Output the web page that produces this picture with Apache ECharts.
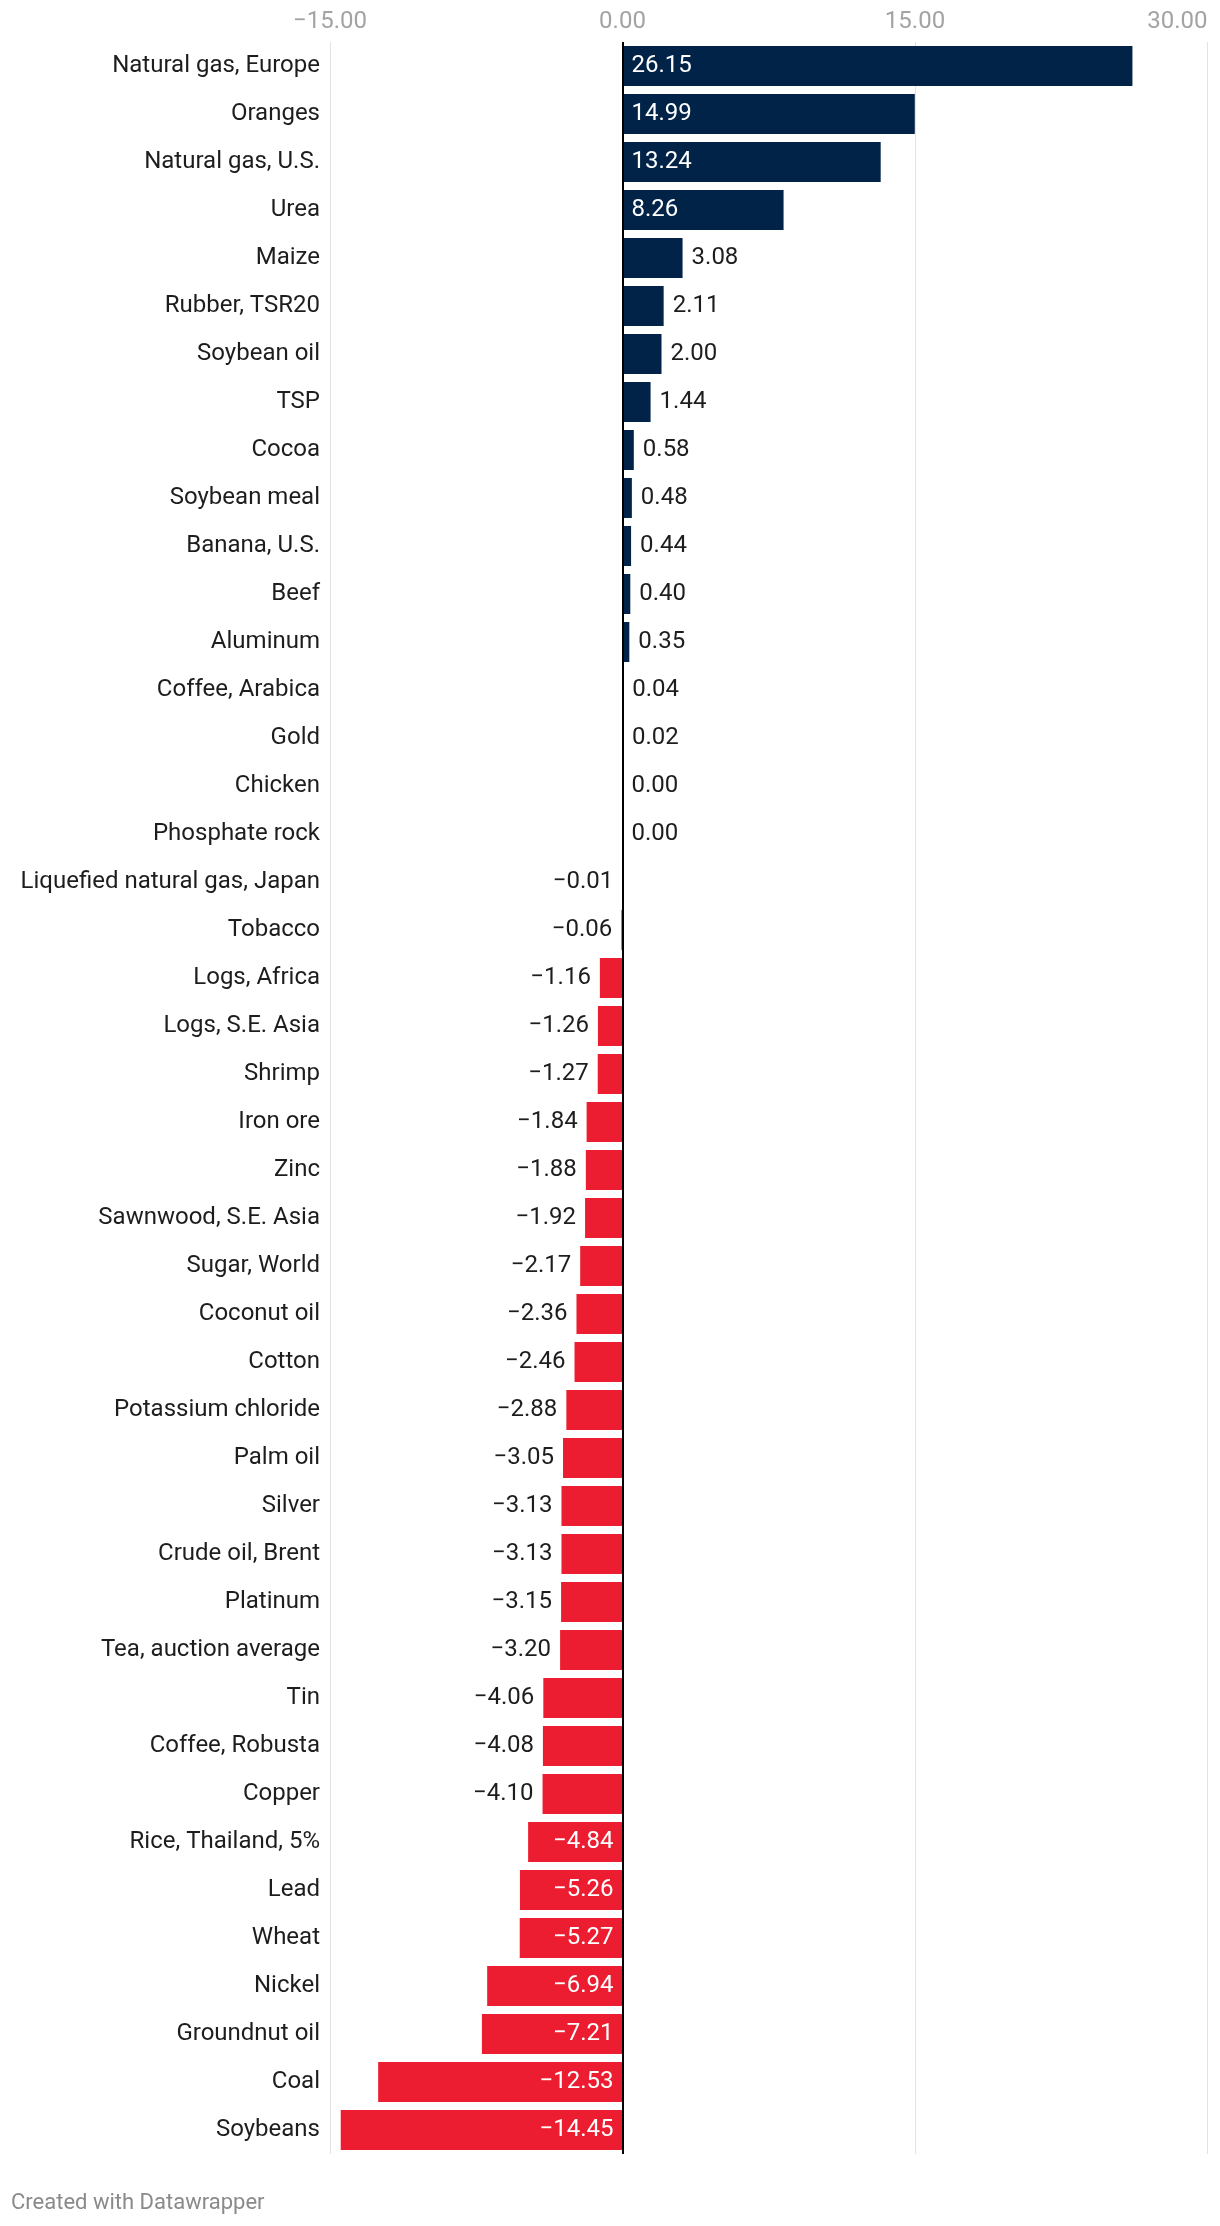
<!DOCTYPE html>
<html>
<head>
<meta charset="utf-8">
<style>
html,body{margin:0;padding:0;background:#fff;}
#chart{width:1220px;height:2226px;}
#credit{position:absolute;left:11px;top:2190px;line-height:24px;font-family:Roboto,"Noto Sans",sans-serif;font-size:22px;color:#8a8a8a;}
</style>
<script src="https://cdn.jsdelivr.net/npm/echarts@6/dist/echarts.min.js"></script>
</head>
<body>
<div id="chart"></div>
<div id="credit">Created with Datawrapper</div>
<script>
const categories = [
  "Natural gas, Europe","Oranges","Natural gas, U.S.","Urea","Maize","Rubber, TSR20","Soybean oil","TSP","Cocoa","Soybean meal","Banana, U.S.","Beef","Aluminum","Coffee, Arabica","Gold","Chicken","Phosphate rock","Liquefied natural gas, Japan","Tobacco","Logs, Africa","Logs, S.E. Asia","Shrimp","Iron ore","Zinc","Sawnwood, S.E. Asia","Sugar, World","Coconut oil","Cotton","Potassium chloride","Palm oil","Silver","Crude oil, Brent","Platinum","Tea, auction average","Tin","Coffee, Robusta","Copper","Rice, Thailand, 5%","Lead","Wheat","Nickel","Groundnut oil","Coal","Soybeans"
];
const values = [
  26.15,14.99,13.24,8.26,3.08,2.11,2.00,1.44,0.58,0.48,0.44,0.40,0.35,0.04,0.02,0.00,0.00,-0.01,-0.06,-1.16,-1.26,-1.27,-1.84,-1.88,-1.92,-2.17,-2.36,-2.46,-2.88,-3.05,-3.13,-3.13,-3.15,-3.20,-4.06,-4.08,-4.10,-4.84,-5.26,-5.27,-6.94,-7.21,-12.53,-14.45
];
const xTicks = [-15, 0, 15, 30];

const POS = '#012348', NEG = '#ec1d30';
const fmt = v => (v < 0 ? '\u2212' : '') + Math.abs(v).toFixed(2);

const data = values.map(v => {
  const neg = v < 0;
  const inside = v >= 8 || v <= -4.5;
  return {
    value: v,
    itemStyle: { color: neg ? NEG : POS },
    label: {
      show: true,
      position: neg ? (inside ? 'insideRight' : 'left') : (inside ? 'insideLeft' : 'right'),
      distance: 9,
      color: inside ? '#ffffff' : '#1d1d1d',
      formatter: () => fmt(v)
    }
  };
});

const chart = echarts.init(document.getElementById('chart'), null, { renderer: 'canvas' });
chart.setOption({
  animation: false,
  backgroundColor: '#ffffff',
  textStyle: { fontFamily: 'Roboto' },
  grid: { left: 330, right: 12.5, top: 42, bottom: 72, containLabel: false },
  xAxis: {
    type: 'value', position: 'top', min: -15, max: 30, interval: 15,
    axisLine: { show: false }, axisTick: { show: false },
    splitLine: { show: true, lineStyle: { color: '#e3e3e3', width: 1 } },
    axisLabel: {
      margin: 8, color: '#a3a3a3', fontSize: 24, fontFamily: 'Roboto',
      alignMaxLabel: 'right',
      customValues: xTicks,
      formatter: v => fmt(v)
    }
  },
  yAxis: {
    type: 'category', data: categories, inverse: true,
    axisLine: { show: false }, axisTick: { show: false }, splitLine: { show: false },
    axisLabel: { margin: 10, color: '#1d1d1d', fontSize: 24, fontFamily: 'Roboto' }
  },
  series: [{
    type: 'bar', data: data, barWidth: 40,
    label: { fontSize: 24, fontFamily: 'Roboto' },
    markLine: {
      silent: true, symbol: 'none', label: { show: false },
      lineStyle: { color: '#000000', width: 2, type: 'solid' },
      data: [{ xAxis: 0 }]
    }
  }]
});
</script>
</body>
</html>
